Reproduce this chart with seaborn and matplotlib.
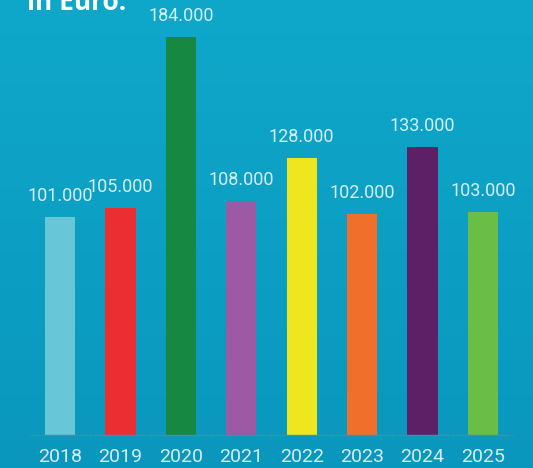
import numpy as np
import pandas as pd
import matplotlib
matplotlib.use("Agg")
import matplotlib.pyplot as plt
import seaborn as sns

# Daten
jahre = ["2018", "2019", "2020", "2021", "2022", "2023", "2024", "2025"]
werte = [101000, 105000, 184000, 108000, 128000, 102000, 133000, 103000]
farben = ["#68c7d7", "#eb2e31", "#178842", "#9d59a3", "#eee71f", "#f0702b", "#5d2066", "#6abd45"]
labels = ["101.000", "105.000", "184.000", "108.000", "128.000", "102.000", "133.000", "103.000"]

df = pd.DataFrame({"jahr": jahre, "wert": werte})

sns.set_style("white")
plt.rcParams["font.family"] = ["Roboto", "DejaVu Sans"]

fig = plt.figure(figsize=(5.33, 4.68), dpi=100)
ax = fig.add_axes([0, 0, 1, 1])

# Hintergrund mit leichtem Verlauf
verlauf = np.linspace(0, 1, 256).reshape(-1, 1)
bg = matplotlib.colors.LinearSegmentedColormap.from_list("bg", ["#0fa8ca", "#0a97bd"])
ax.imshow(verlauf, aspect="auto", cmap=bg, extent=[-0.993, 7.83, -15256, 201106], zorder=0)

sns.barplot(data=df, x="jahr", y="wert", hue="jahr", palette=farben, legend=False,
            width=0.5, saturation=1, ax=ax, zorder=2, edgecolor="none", linewidth=0)

ax.set_xlim(-0.993, 7.83)
ax.set_ylim(-15256, 201106)

# Grundlinie
ax.hlines(0, -0.47, 7.43, color="#3f8fae", linewidth=1, zorder=3)
for x in np.arange(-0.5, 8, 1.0):
    ax.vlines(x, -1200, 0, color="#3f8fae", linewidth=0.8, zorder=3)

# Wertbeschriftung
for i, (w, t) in enumerate(zip(werte, labels)):
    ax.text(i, w + 5500, t, ha="center", va="bottom", fontsize=13, color="#d6edf3", zorder=4)

# Jahre
for i, j in enumerate(jahre):
    ax.text(i, -10300, j, ha="center", va="center", fontsize=14, color="#d6edf3", zorder=4)

fig.text(0.05, 0.978, "in Euro:", ha="left", va="baseline", fontsize=19,
         fontweight="bold", color="white", family=["Open Sans", "DejaVu Sans"])

ax.set_axis_off()
fig.savefig("out.png", dpi=100)
